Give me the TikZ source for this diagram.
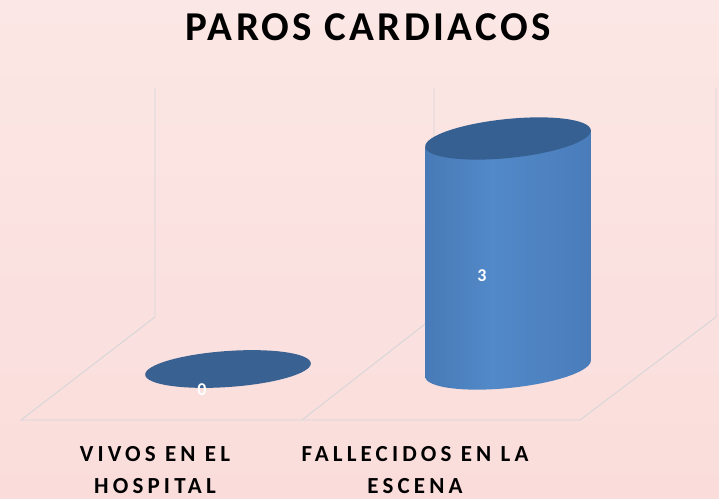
\documentclass[tikz,border=0pt]{standalone}
\usepackage{fontspec}
\setmainfont{Carlito}
\definecolor{bgtop}{RGB}{251,231,229}
\definecolor{bgbot}{RGB}{250,221,219}
\definecolor{gridc}{RGB}{214,214,216}
\definecolor{captop}{RGB}{55,96,146}
\definecolor{flatc}{RGB}{57,98,147}
\definecolor{cyA}{RGB}{50,88,137}
\definecolor{cyB}{RGB}{64,112,170}
\definecolor{cyC}{RGB}{82,137,200}
\definecolor{cyD}{RGB}{74,124,186}
\definecolor{cyE}{RGB}{62,105,158}
\definecolor{cyF}{RGB}{50,86,132}
\pgfdeclarehorizontalshading{cylshade}{100bp}{%
  color(0bp)=(cyA);
  color(12bp)=(cyB);
  color(45bp)=(cyC);
  color(75bp)=(cyD);
  color(92bp)=(cyE);
  color(100bp)=(cyF)}
\tikzset{
  gridline/.style={draw=gridc, line width=0.9pt},
  title/.style={font=\fontsize{41}{48}\selectfont\bfseries\addfontfeature{LetterSpace=8}},
  catlabel/.style={font=\fontsize{23}{32}\selectfont\bfseries\addfontfeature{LetterSpace=18}, align=center, text=black},
  vallabel/.style={font=\fontsize{18}{20}\selectfont\bfseries, text=white}
}
\begin{document}
\begin{tikzpicture}[x=1pt,y=-1pt]
\shade[top color=bgtop, bottom color=bgbot] (0,0) rectangle (719,498);
\useasboundingbox (0,0) rectangle (719,498);
% grid walls and floor
\draw[gridline] (155,88) -- (155,317) -- (21,420) -- (580,420) -- (716,317) -- (716,88);
\draw[gridline] (434,88) -- (434,317) -- (302,420);
% flat ellipse (value 0)
\fill[flatc, rotate around={4:(228,369)}] (228,369) ellipse (83 and 18);
% cylinder (value 3)
\shade[shading=cylshade]
  (590.8,130.1) --
  plot[domain=0:180, samples=60, smooth]
    ({508+83.2*cos(\x)*0.99488+19.5*sin(\x)*0.10106},
     {368.5-83.2*cos(\x)*0.10106+19.5*sin(\x)*0.99488})
  -- (425.2,146.9) -- cycle;
\fill[captop, rotate around={5.8:(508,138.5)}] (508,138.5) ellipse (83.2 and 19.5);
% texts
\node[title] (t) at (368,27) {PAROS CARDIACOS};
\node[vallabel] (v0) at (202,390) {0};
\node[vallabel] (v3) at (482,276) {3};
\node[catlabel] (c1) at (155,470) {VIVOS EN EL\\HOSPITAL};
\node[catlabel] (c2) at (415,470) {FALLECIDOS EN LA\\ESCENA};
\end{tikzpicture}
\end{document}
